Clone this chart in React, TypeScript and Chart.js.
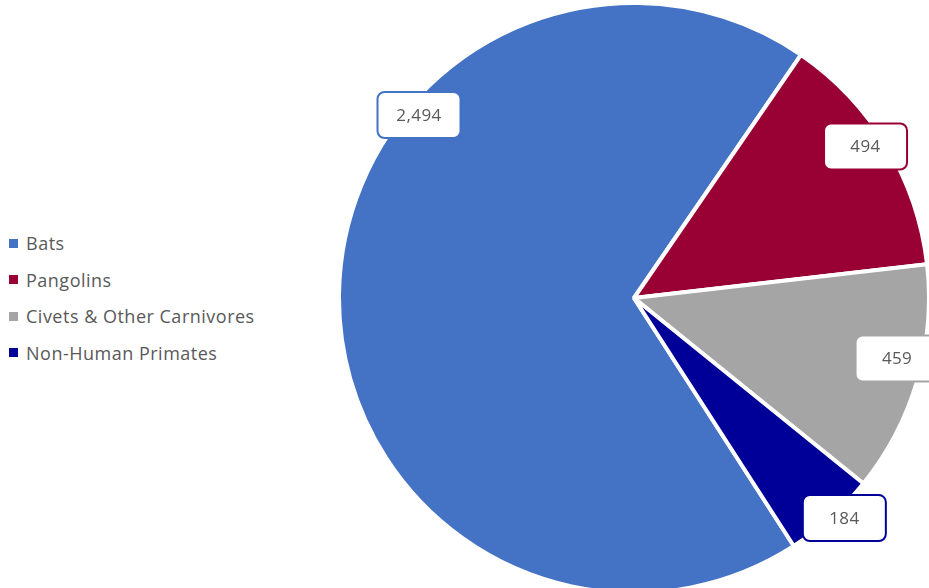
import React, { useEffect, useRef } from "react";
import { Chart, registerables } from "chart.js";

Chart.register(...registerables);

const categories = ["Bats", "Pangolins", "Civets & Other Carnivores", "Non-Human Primates"];
const values = [2494, 494, 459, 184];
const valueLabels = ["2,494", "494", "459", "184"];
const colors = ["#4472C4", "#990033", "#A5A5A5", "#000099"];
// label placement (canvas angle in degrees, fraction of outer radius)
const labelAngles = [-139.6, -33.2, 12.95, 46.3];
const labelRadii = [0.957, 0.938, 0.915, 1.032];

const FONT = "'Open Sans', 'Noto Sans', sans-serif";

const labelPlugin = {
  id: "boxLabels",
  afterDatasetsDraw(chart: any) {
    const ctx = chart.ctx;
    const meta = chart.getDatasetMeta(0);
    meta.data.forEach((arc: any, i: number) => {
      const { x, y, outerRadius } = arc.getProps(["x", "y", "outerRadius"], true);
      const a = (labelAngles[i] * Math.PI) / 180;
      const r = outerRadius * labelRadii[i];
      const cx = x + Math.cos(a) * r;
      const cy = y + Math.sin(a) * r;
      const w = 83;
      const h = 46;
      ctx.save();
      ctx.beginPath();
      ctx.roundRect(cx - w / 2, cy - h / 2, w, h, 7);
      ctx.fillStyle = "#FFFFFF";
      ctx.fill();
      ctx.lineWidth = 2;
      ctx.strokeStyle = colors[i];
      ctx.stroke();
      ctx.fillStyle = "#595959";
      ctx.font = `17px ${FONT}`;
      try {
        (ctx as any).letterSpacing = "0.4px";
      } catch (e) {}
      ctx.textAlign = "center";
      ctx.textBaseline = "middle";
      ctx.fillText(valueLabels[i], cx, cy + 1);
      ctx.restore();
    });
  },
};

export default function App() {
  const canvasRef = useRef<HTMLCanvasElement | null>(null);

  useEffect(() => {
    if (!canvasRef.current) return;
    const chart = new Chart(canvasRef.current, {
      type: "pie",
      data: {
        labels: categories,
        datasets: [
          {
            data: values,
            backgroundColor: colors,
            borderColor: "#FFFFFF",
            borderWidth: 4,
            hoverOffset: 0,
            offset: 0,
          },
        ],
      },
      options: {
        responsive: false,
        maintainAspectRatio: false,
        animation: false,
        rotation: 147.2,
        layout: { padding: 0 },
        plugins: {
          legend: { display: false },
          tooltip: { enabled: false },
        },
      },
      plugins: [labelPlugin],
    });
    return () => chart.destroy();
  }, []);

  const size = 594;
  const rowY = [243, 279.5, 316, 352.5];

  return (
    <div
      style={{
        position: "fixed",
        left: 0,
        top: 0,
        width: 929,
        height: 588,
        overflow: "hidden",
        background: "#FFFFFF",
      }}
    >
      <canvas
        ref={canvasRef}
        width={size}
        height={size}
        style={{ position: "absolute", left: 634 - size / 2, top: 298 - size / 2, width: size, height: size }}
      />
      {categories.map((c, i) => (
        <div
          key={c}
          style={{
            position: "absolute",
            left: 9,
            top: rowY[i] - 12,
            height: 24,
            display: "flex",
            alignItems: "center",
            fontFamily: FONT,
            fontSize: 18,
            letterSpacing: "0.5px",
            color: "#595959",
            whiteSpace: "nowrap",
          }}
        >
          <span style={{ display: "inline-block", width: 9, height: 9, background: colors[i], marginRight: 8 }} />
          <span>{c}</span>
        </div>
      ))}
    </div>
  );
}
